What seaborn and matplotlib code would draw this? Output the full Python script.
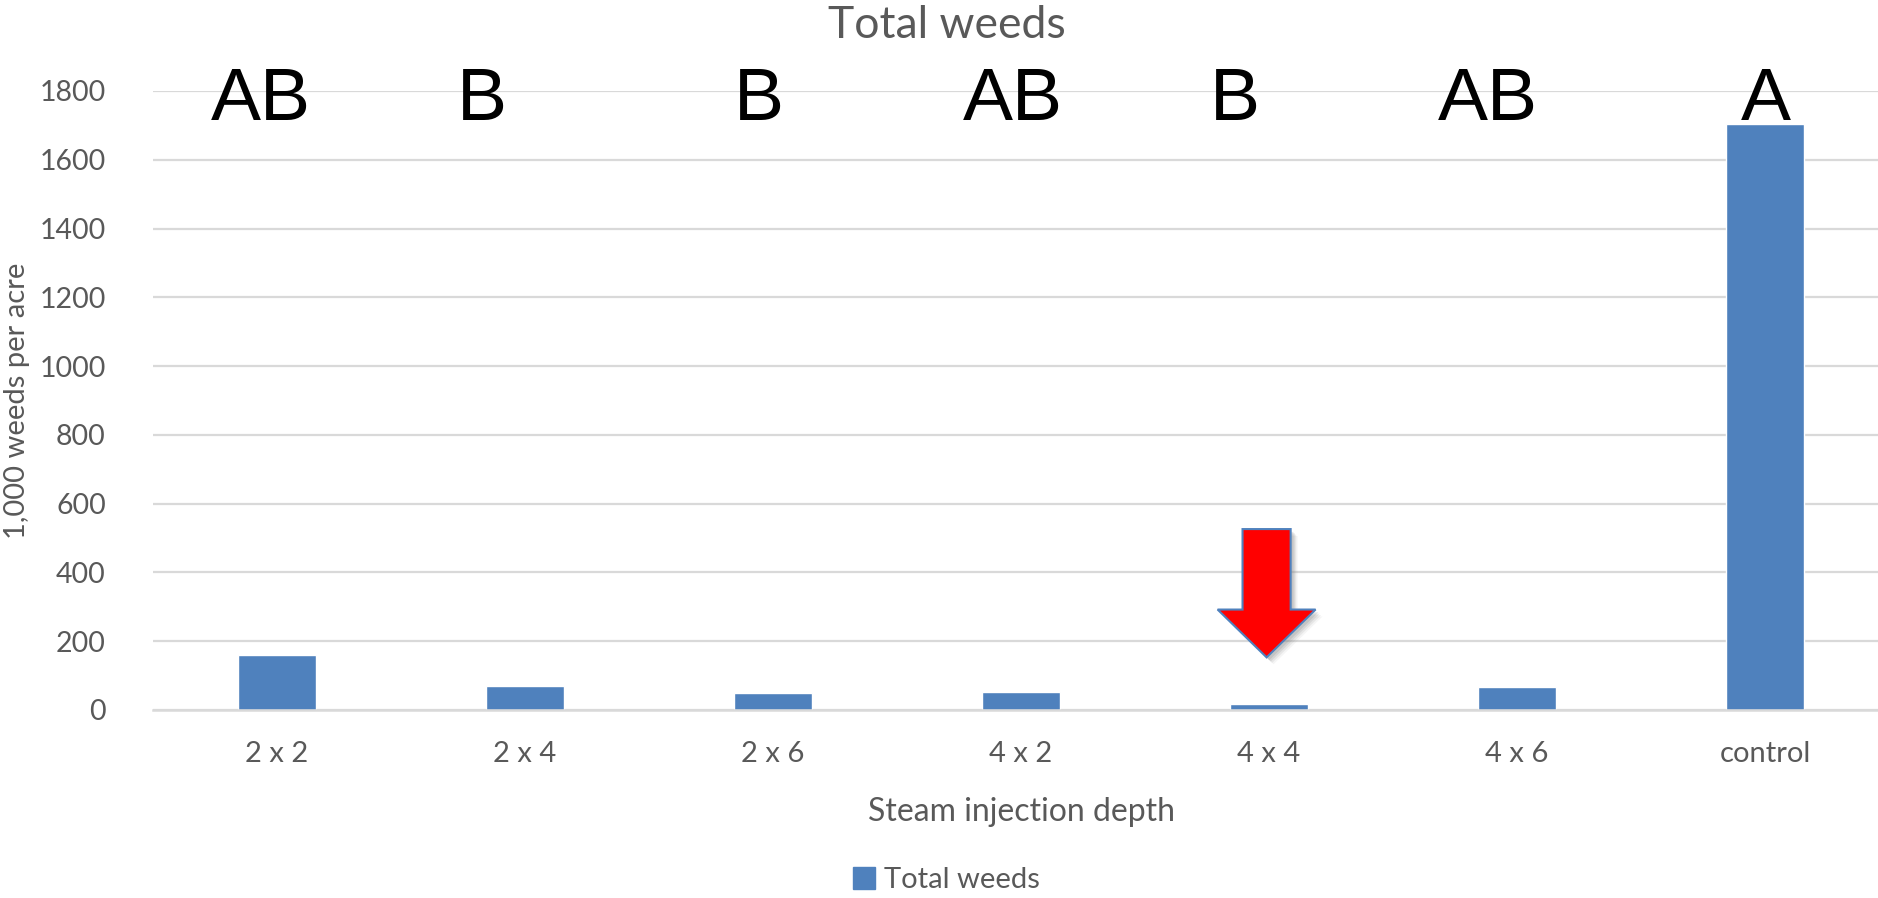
import matplotlib
matplotlib.use("Agg")
import matplotlib.pyplot as plt
import matplotlib.patches as mpatches
import matplotlib.patheffects as pe
import seaborn as sns
import pandas as pd

# Treatments and mean weed density (1,000 weeds per acre)
depths = ["2 x 2", "2 x 4", "2 x 6", "4 x 2", "4 x 4", "4 x 6", "control"]
weeds = [161, 71, 50, 53, 16, 66, 1705]
# Mean-separation letters shown above each treatment
letters = ["AB", "B", "B", "AB", "B", "AB", "A"]
letter_shift = [-0.066, -0.173, -0.056, -0.032, -0.137, -0.117, 0.004]

yticks = [0, 200, 400, 600, 800, 1000, 1200, 1400, 1600, 1800]

BAR = "#4F81BD"
GREY = "#595959"
GRID = "#D9D9D9"
UI_FONT = ["Lato", "DejaVu Sans"]

sns.set_theme(style="white")
plt.rcParams["font.family"] = UI_FONT

df = pd.DataFrame({"depth": depths, "weeds": weeds})

fig = plt.figure(figsize=(18.78, 8.98), dpi=100)
ax = fig.add_axes([0.0815, 0.2094, 0.9244, 0.6893])

sns.barplot(data=df, x="depth", y="weeds", color=BAR, saturation=1,
            width=0.313, ax=ax, zorder=3)

ax.set_xlim(-0.5, len(depths) - 0.5)
ax.set_ylim(0, 1800)
ax.set_yticks(yticks)
ax.yaxis.grid(True, color=GRID, linewidth=1.6, zorder=0)
ax.xaxis.grid(False)
for side in ["top", "right", "left"]:
    ax.spines[side].set_visible(False)
ax.spines["bottom"].set_color(GRID)
ax.spines["bottom"].set_linewidth(1.8)
ax.spines["bottom"].set_zorder(4)

ax.tick_params(axis="y", length=0, pad=34, labelsize=20.5, labelcolor=GREY)
ax.tick_params(axis="x", length=0, pad=22, labelsize=21, labelcolor=GREY)

ax.set_xlabel("Steam injection depth", fontsize=23, color=GREY, labelpad=22)
ax.set_ylabel("1,000 weeds per acre", fontsize=21, color=GREY)
ax.yaxis.set_label_coords(-0.071, 0.5)

fig.text(0.504, 0.972, "Total weeds", ha="center", va="center",
         fontsize=32, color=GREY)

# Significance letters
for i, (lab, dx) in enumerate(zip(letters, letter_shift)):
    ax.text(i + dx, 1717, lab, ha="center", va="baseline",
            fontsize=54, color="black", family=["Liberation Sans", "DejaVu Sans"],
            zorder=5)

# Red call-out arrow pointing at the 4 x 4 treatment
arrow = mpatches.FancyArrow(3.99, 526, 0, 153 - 526, width=0.194,
                            head_width=0.395, head_length=139,
                            length_includes_head=True,
                            facecolor="#FF0000", edgecolor="#4F81BD",
                            linewidth=1.5, zorder=6)
shadow = [pe.SimplePatchShadow(offset=(o, -o), shadow_rgbFace="#808080", alpha=a)
          for o, a in [(5, 0.08), (4, 0.12), (3, 0.16), (2, 0.2)]]
arrow.set_path_effects(shadow + [pe.Normal()])
ax.add_patch(arrow)

handle = mpatches.Patch(color=BAR, label="Total weeds")
fig.legend(handles=[handle], loc="center", bbox_to_anchor=(0.504, 0.02),
           frameon=False, fontsize=21, labelcolor=GREY, handlelength=0.75,
           handleheight=0.75, handletextpad=0.3)

fig.savefig("out.png", dpi=100, facecolor="white")
